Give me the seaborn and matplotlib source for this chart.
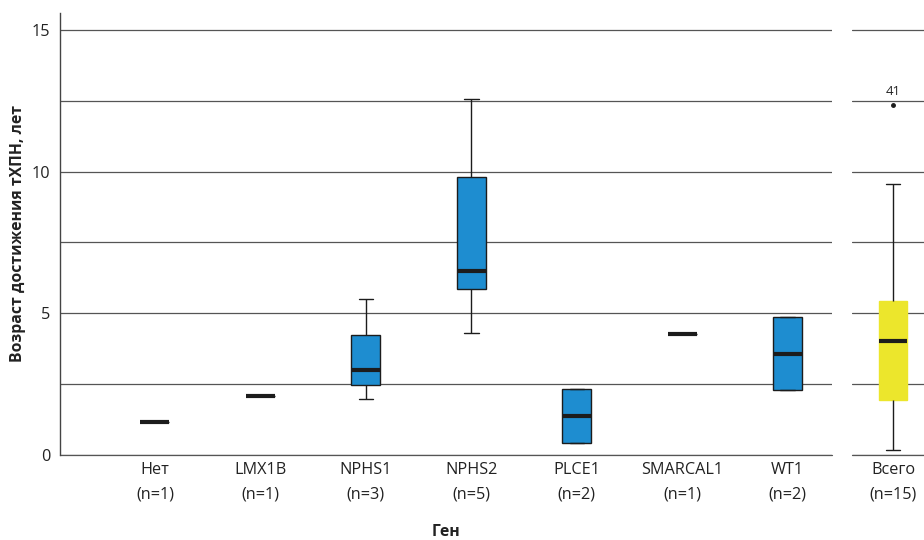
"""
Возраст достижения тХПН по генам: боксплоты по генам + общий боксплот (Всего).
"""

import numpy as np
import pandas as pd
import matplotlib
matplotlib.use("Agg")   # headless
import matplotlib.pyplot as plt
from matplotlib.ticker import MultipleLocator
import seaborn as sns

# ── Data (age at ESRD, years) ──────────────────────────────────────────────────
GENES = ["Нет", "LMX1B", "NPHS1", "NPHS2", "PLCE1", "SMARCAL1", "WT1"]
AGE_NONE = [1.15]
AGE_LMX1B = [2.07]
AGE_NPHS1 = [1.97, 3.0, 5.5]
AGE_NPHS2 = [4.3, 5.86, 6.49, 9.81, 12.58]
AGE_PLCE1 = [0.41, 2.32]
AGE_SMARCAL1 = [4.27]
AGE_WT1 = [2.29, 4.87]
TOTAL_LABEL = "Всего"
OUTLIER_ID = "41"

Y_TICKS = [0, 5, 10, 15]

# ── Style ──────────────────────────────────────────────────────────────────────
BLUE = "#1E8DD0"
YELLOW = "#ECE62C"
INK = "#1C1C1C"
GRID = "#555555"
TEXT = "#222222"
TOTAL_SHIFT = 0.23   # the "Всего" panel sits slightly lower in the original
FS = 11.7


# Tukey hinges for quartiles (the original draws n=2 boxes from min to max)
_mpl_boxplot_stats = matplotlib.cbook.boxplot_stats


def tukey_boxplot_stats(X, whis=1.5, **kw):
    out = _mpl_boxplot_stats(X, whis=whis, **kw)
    for st, x in zip(out, X):
        x = np.sort(np.asarray(x, dtype=float))
        h = (len(x) + 1) // 2
        q1, q3 = np.median(x[:h]), np.median(x[-h:])
        lo, hi = q1 - whis * (q3 - q1), q3 + whis * (q3 - q1)
        inside = x[(x >= lo) & (x <= hi)]
        st.update(q1=q1, q3=q3, iqr=q3 - q1,
                  whislo=inside.min(), whishi=inside.max(),
                  fliers=x[(x < lo) | (x > hi)])
    return out


matplotlib.cbook.boxplot_stats = tukey_boxplot_stats

groups = [AGE_NONE, AGE_LMX1B, AGE_NPHS1, AGE_NPHS2, AGE_PLCE1, AGE_SMARCAL1, AGE_WT1]
df = pd.DataFrame({
    "gene": [g for g, vals in zip(GENES, groups) for _ in vals],
    "age": [v for vals in groups for v in vals],
})
total = pd.DataFrame({"age": df["age"].to_numpy()})

sns.set_theme(style="white")
plt.rcParams["font.family"] = ["Open Sans", "DejaVu Sans"]

fig = plt.figure(figsize=(9.24, 5.40), dpi=100)
ax = fig.add_axes([60 / 924, 1 - 455 / 540, 772 / 924, 442 / 540])
ax2 = fig.add_axes([852 / 924, 1 - 455 / 540, 82 / 924, 442 / 540])

box_kw = dict(
    width=0.275, saturation=1, linecolor=INK, linewidth=1.0,
    medianprops=dict(linewidth=3.0, color=INK),
    flierprops=dict(marker="o", markersize=2.5, markerfacecolor=INK,
                    markeredgecolor=INK),
)

# ── Left panel: per gene ───────────────────────────────────────────────────────
sns.boxplot(data=df, x="gene", y="age", order=GENES, color=BLUE, ax=ax, **box_kw)
ax.set_xlim(-0.9, 6.42)
ax.set_ylim(0, 15.6)
ax.set_yticks(Y_TICKS)
ax.yaxis.set_minor_locator(MultipleLocator(2.5))
ax.set_xticks(range(len(GENES)))
ax.set_xticklabels([f"{g}\n(n={len(v)})" for g, v in zip(GENES, groups)])
ax.grid(True, which="both", axis="y", color=GRID, linewidth=0.9)
ax.set_axisbelow(True)
ax.tick_params(axis="both", which="both", length=0, labelsize=FS, colors=TEXT)
ax.tick_params(axis="y", pad=7)
ax.tick_params(axis="x", pad=5)
for side in ["top", "right", "bottom"]:
    ax.spines[side].set_visible(False)
ax.spines["left"].set_color("#444444")
ax.spines["left"].set_linewidth(1.0)
ax.set_ylabel("Возраст достижения тХПН, лет", fontsize=11.3, fontweight="bold",
              color=TEXT, labelpad=4)
ax.set_xlabel("Ген", fontsize=11.3, fontweight="bold", color=TEXT, labelpad=15)
ax.axhline(0, color=GRID, linewidth=0.9, clip_on=False, zorder=0.5)

# ── Right panel: all patients ──────────────────────────────────────────────────
sns.boxplot(data=total, y="age", color=YELLOW, ax=ax2,
            boxprops=dict(edgecolor=YELLOW), **box_kw)
ax2.set_xlim(-0.39, 0.39)
ax2.set_ylim(TOTAL_SHIFT, 15.6 + TOTAL_SHIFT)
ax2.set_yticks(np.arange(0, 15.1, 2.5) + TOTAL_SHIFT)
ax2.set_yticklabels([])
ax2.set_ylabel("")
ax2.set_xticks([0])
ax2.set_xticklabels([f"{TOTAL_LABEL}\n(n={len(total)})"])
ax2.grid(True, axis="y", color=GRID, linewidth=0.9)
ax2.set_axisbelow(True)
ax2.tick_params(axis="both", length=0, labelsize=FS, colors=TEXT)
ax2.tick_params(axis="x", pad=5)
for side in ax2.spines:
    ax2.spines[side].set_visible(False)
ax2.axhline(TOTAL_SHIFT, color=GRID, linewidth=0.9, clip_on=False, zorder=0.5)
ax2.annotate(OUTLIER_ID, xy=(0, total["age"].max()), xytext=(0, 5),
             textcoords="offset points", ha="center", va="bottom",
             fontsize=9.5, color=TEXT)

# roomier two-line tick labels
for a in (ax, ax2):
    for lbl in a.get_xticklabels():
        lbl.set_linespacing(1.75)

fig.savefig("out.png", dpi=100)
plt.close(fig)
